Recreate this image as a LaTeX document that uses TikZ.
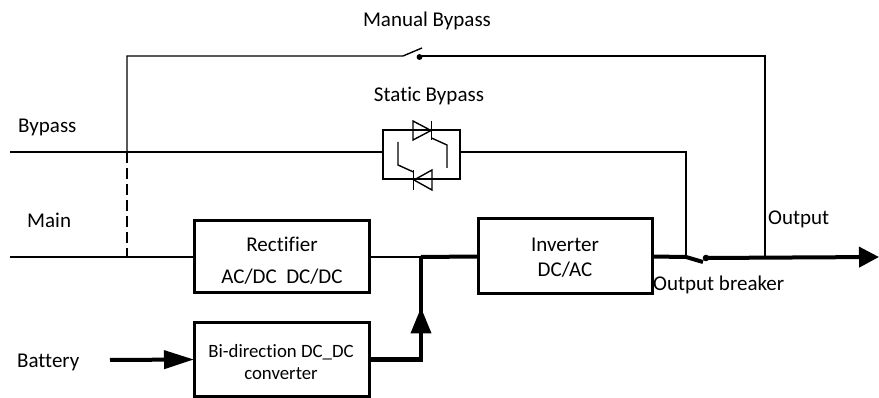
\documentclass[tikz,border=0pt]{standalone}
\usepackage{fontspec}
\setmainfont{Carlito}[Ligatures=NoCommon]
\usetikzlibrary{arrows.meta,decorations.markings}
\begin{document}
\begin{tikzpicture}[x=1pt,y=-1pt,
  lbl/.style={font=\fontsize{21}{24}\selectfont, inner sep=0pt, anchor=base},
  lblw/.style={lbl, anchor=base west},
  small/.style={font=\fontsize{18.8}{22}\selectfont, inner sep=0pt, anchor=base},
  blk/.style={draw, line width=3pt, inner sep=0pt, outer sep=0pt},
  sbbox/.style={draw, line width=1.5pt, inner sep=0pt, outer sep=0pt},
  thinl/.style={line width=1.4pt},
  midl/.style={line width=2pt},
  boldl/.style={line width=4pt},
  tipa/.style={-{Triangle[length=30pt,width=18pt]}},
  tipo/.style={-{Triangle[length=20pt,width=20pt]}},
  midarrow/.style={postaction={decorate, decoration={markings,
      mark=at position 104pt with {\arrow{Triangle[length=26pt,width=20pt]}}}}},
]
\useasboundingbox (0,0) rectangle (879,398);

% blocks
\node[blk, minimum width=175pt, minimum height=72pt] (rect) at (281.5,257) {};
\node[blk, minimum width=174pt, minimum height=75pt] (inv) at (565,256.5) {};
\node[blk, minimum width=175pt, minimum height=73pt] (bd) at (281.5,359.5) {};
\node[sbbox, minimum width=77pt, minimum height=49pt] (sb) at (421.5,154.5) {};

% texts
\node[lbl] (tman) at (427,27) {Manual Bypass};
\node[lbl] (tstat) at (429,102) {Static Bypass};
\node[lblw] (tbyp) at (18,133) {Bypass};
\node[lblw] (tmain) at (27,228) {Main};
\node[lblw] (tbat) at (17,367) {Battery};
\node[lblw] (tout) at (768,225) {Output};
\node[lblw] (tbrk) at (653,291) {Output breaker};
\node[lbl] (trect1) at (282,252) {Rectifier};
\node[lbl] (trect2) at (282,284) {AC/DC\ \ DC/DC};
\node[lbl] (tinv1) at (565,252) {Inverter};
\node[lbl] (tinv2) at (565,277) {DC/AC};
\node[small] (tbd1) at (281,357) {Bi-direction DC\_DC};
\node[small] (tbd2) at (281,380) {converter};

% coordinates
\coordinate (bypin) at (10,152);
\coordinate (mainin) at (10,257);
\coordinate (dtop) at (127,152);
\coordinate (dbot) at (127,257);
\coordinate (mtl) at (127,56);
\coordinate (swl) at (403,56);
\coordinate (swb) at (422,48);
\coordinate (swr) at (422,56);
\coordinate (mtr) at (765,56);
\coordinate (outj) at (765,257);
\coordinate (sbr) at (686,152);
\coordinate (brk) at (686,257);
\coordinate (brkb) at (703,262);
\coordinate (brkd) at (706,258);
\coordinate (outend) at (879,257);
\coordinate (jn) at (421,257);
\coordinate (batin) at (110,360);

% bypass line and static bypass
\draw[thinl] (bypin) -- (bypin -| sb.west);
\draw[midl] (sbr -| sb.east) -- (sbr) -- (brk);
% thyristors
\draw[thinl] (413,121) -- (413,140) -- (431,130.5) -- cycle;
\draw[thinl] (431.5,121) -- (431.5,140);
\draw[thinl] (431.5,138) -- (447,145) -- (447,168);
\draw[thinl] (432,170) -- (432,190) -- (414,180) -- cycle;
\draw[thinl] (413.5,170) -- (413.5,190);
\draw[thinl] (413.5,172) -- (398,165) -- (398,142);

% main and manual bypass
\draw[thinl] (mainin) -- (rect.west);
\draw[thinl, dash pattern=on 11pt off 5pt] (dtop) -- (dbot);
\draw[thinl] (dtop) -- (mtl) -- (swl) -- (swb);
\draw[thinl] (swr) -- (mtr) -- (outj);
\draw[line width=1.2pt, fill=black] (419.5,57) circle (2.3);

% DC bus
\draw[thinl] (rect.east) -- (jn);
\draw[boldl] (jn) -- (inv.west);
\draw[boldl, tipa] (batin) -- (bd.west);
\draw[boldl, midarrow] (bd.east) -| (jn);

% output
\draw[boldl] (inv.east) -- (brk) -- (brkb);
\fill (brkd) circle (3.3);
\draw[boldl, tipo] (brkd) -- (outend);
\end{tikzpicture}
\end{document}
